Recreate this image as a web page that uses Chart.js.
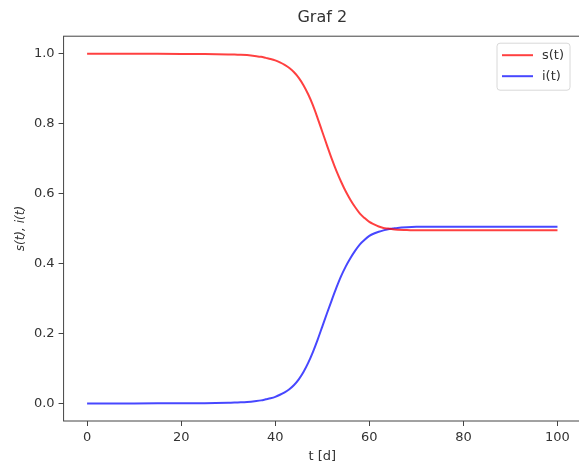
<!DOCTYPE html>
<html>
<head>
<meta charset="utf-8">
<script src="https://cdn.jsdelivr.net/npm/chart.js@4/dist/chart.umd.min.js"></script>
<style>
  html, body { margin: 0; padding: 0; background: #fff; overflow: hidden; }
  #wrap { position: relative; width: 582px; height: 463px; }
</style>
</head>
<body>
<div id="wrap"><canvas id="chart"></canvas></div>
<script>
// time in days
const tDays = [0, 10, 20, 25, 30, 32, 34, 36, 37, 38, 39, 40, 41, 42, 43, 44, 45, 46, 47, 48, 49, 50, 51, 52, 53, 54, 55, 56, 57, 58, 59, 60, 61, 62, 63, 64, 65, 66, 68, 70, 80, 90, 100];
// s(t) - red
const sValues = [1.000, 1.000, 0.999, 0.999, 0.998, 0.997, 0.996, 0.993, 0.991, 0.988, 0.985, 0.981, 0.975, 0.968, 0.959, 0.947, 0.931, 0.910, 0.884, 0.853, 0.816, 0.777, 0.738, 0.700, 0.665, 0.634, 0.606, 0.582, 0.561, 0.543, 0.530, 0.519, 0.512, 0.506, 0.502, 0.500, 0.498, 0.497, 0.496, 0.495, 0.495, 0.495, 0.495];
// i(t) - blue
const iValues = [0.000, 0.000, 0.001, 0.001, 0.002, 0.003, 0.004, 0.007, 0.009, 0.012, 0.015, 0.019, 0.025, 0.032, 0.041, 0.053, 0.069, 0.090, 0.116, 0.147, 0.182, 0.220, 0.258, 0.295, 0.331, 0.364, 0.392, 0.416, 0.437, 0.455, 0.468, 0.479, 0.486, 0.491, 0.495, 0.498, 0.500, 0.502, 0.504, 0.505, 0.505, 0.505, 0.505];
const xTicks = [0, 20, 40, 60, 80, 100];
const yTicks = [0, 0.2, 0.4, 0.6, 0.8, 1.0];

const FONT = 'DejaVu Sans';
const TEXT = '#333';

function points(ys) {
  return tDays.map((t, k) => ({ x: t, y: ys[k] }));
}

// matplotlib style box around the axes + legend inside
const framePlugin = {
  id: 'frame',
  afterDraw(chart) {
    const ctx = chart.ctx;
    const a = chart.chartArea;
    ctx.save();
    ctx.strokeStyle = '#444';
    ctx.lineWidth = 1;
    ctx.strokeRect(a.left, a.top, a.right - a.left, a.bottom - a.top);

    // legend
    const w = 73, h = 47;
    const x0 = a.right - 11 - w, y0 = a.top + 7;
    ctx.fillStyle = 'rgba(255,255,255,0.8)';
    ctx.strokeStyle = '#d8d8d8';
    ctx.beginPath();
    ctx.roundRect(x0, y0, w, h, 3);
    ctx.fill();
    ctx.stroke();
    ctx.font = '13px ' + FONT;
    ctx.textBaseline = 'middle';
    chart.data.datasets.forEach((ds, k) => {
      const y = y0 + 12 + k * 21;
      ctx.strokeStyle = ds.borderColor;
      ctx.lineWidth = ds.borderWidth;
      ctx.beginPath();
      ctx.moveTo(x0 + 5, y);
      ctx.lineTo(x0 + 36, y);
      ctx.stroke();
      ctx.fillStyle = TEXT;
      ctx.fillText(ds.label, x0 + 45, y);
    });
    ctx.restore();
  }
};

const config = {
  type: 'line',
  data: {
    datasets: [
      {
        label: 's(t)',
        data: points(sValues),
        borderColor: 'rgba(255,0,0,0.75)',
        borderWidth: 2,
        pointRadius: 0,
        cubicInterpolationMode: 'monotone',
      },
      {
        label: 'i(t)',
        data: points(iValues),
        borderColor: 'rgba(0,0,255,0.72)',
        borderWidth: 2,
        pointRadius: 0,
        cubicInterpolationMode: 'monotone',
      },
    ],
  },
  options: {
    responsive: false,
    animation: false,
    devicePixelRatio: 1,
    layout: { padding: { left: 14, right: 1, top: 0, bottom: 0 } },
    plugins: {
      legend: { display: false },
      tooltip: { enabled: false },
      title: {
        display: true,
        text: 'Graf 2',
        fullSize: false,
        color: TEXT,
        font: { family: FONT, size: 16, weight: 'normal' },
        padding: { top: 8, bottom: 9 },
      },
    },
    scales: {
      x: {
        type: 'linear',
        min: -5,
        max: 105,
        afterBuildTicks: (s) => { s.ticks = xTicks.map(v => ({ value: v })); },
        border: { display: false },
        grid: { drawOnChartArea: false, drawTicks: true, tickLength: 5, color: '#444' },
        ticks: { color: TEXT, font: { family: FONT, size: 13, lineHeight: 1.0 }, padding: 5, maxRotation: 0 },
        title: {
          display: true,
          text: 't [d]',
          color: TEXT,
          font: { family: FONT, size: 13, lineHeight: 1.0 },
          padding: { top: 1, bottom: 0 },
        },
      },
      y: {
        type: 'linear',
        min: -0.05,
        max: 1.05,
        afterBuildTicks: (s) => { s.ticks = yTicks.map(v => ({ value: v })); },
        border: { display: false },
        grid: { drawOnChartArea: false, drawTicks: true, tickLength: 5, color: '#444' },
        ticks: {
          color: TEXT,
          font: { family: FONT, size: 13 },
          padding: 4,
          callback: (v) => v.toFixed(1),
        },
        title: {
          display: true,
          text: 's(t), i(t)',
          color: TEXT,
          font: { family: FONT, size: 12, style: 'italic' },
          padding: { top: 0, bottom: 1.5 },
        },
      },
    },
  },
  plugins: [framePlugin],
};

const canvas = document.getElementById('chart');
canvas.width = 582;
canvas.height = 463;
const myChart = new Chart(canvas, config);
</script>
</body>
</html>
